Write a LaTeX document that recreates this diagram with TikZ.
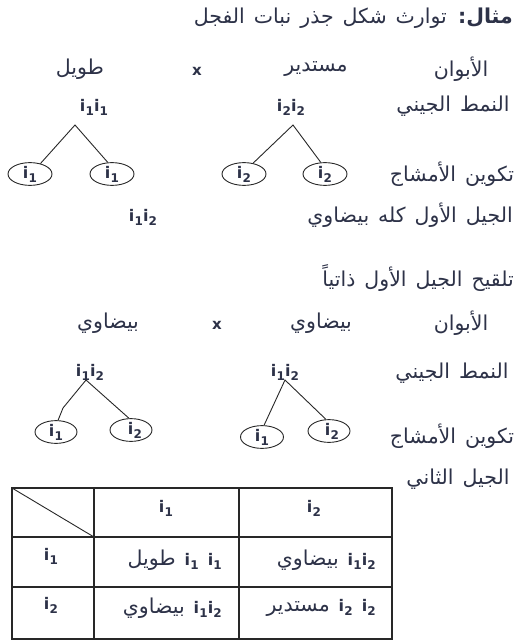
\documentclass[tikz,border=0pt]{standalone}
\usepackage{fontspec}
\setmainfont{DejaVu Sans}
\newfontfamily\arabicfont[Script=Arabic]{DejaVu Sans}
\usetikzlibrary{shapes.geometric}
\TeXXeTstate=1
\definecolor{txt}{RGB}{45,50,72}
\definecolor{ln}{RGB}{40,40,40}
\newcommand\gi[1]{{\fontsize{16}{18}\selectfont\bfseries i\kern0.2pt\raisebox{-0.45ex}{\fontsize{12}{13}\selectfont #1}}}
\newcommand\ar[1]{{\arabicfont\fontsize{20.5}{24}\selectfont\spaceskip=9pt plus 2pt minus 1pt\beginR #1\endR}}
\tikzset{
  every node/.style={text=txt, inner sep=0pt},
  gam/.style={draw=ln, ellipse, line width=0.9pt, minimum width=44pt, minimum height=20pt},
  leg/.style={draw=ln, line width=0.9pt},
  grid/.style={draw=ln, line width=1.1pt},
  cross/.style={font=\fontsize{15}{17}\selectfont\bfseries}
}
\begin{document}
\begin{tikzpicture}[x=1pt,y=-1pt]
\useasboundingbox[fill=white] (0,0) rectangle (519,642);
% header
\node[anchor=east] (title) at (513,18) {\ar{{\bfseries مثال:} توارث شكل جذر نبات الفجل}};
% first cross
\node (p1) at (461,69) {\ar{الأبوان}};
\node (p1a) at (316,69) {\ar{مستدير}};
\node[cross] (x1) at (197,71) {x};
\node (p1b) at (80,69) {\ar{طويل}};
\node (gt1) at (453,106) {\ar{النمط الجيني}};
\node (g1) at (94,107) {\gi1\gi1};
\node (g2) at (291,107) {\gi2\gi2};
\coordinate (a1) at (75,125);
\coordinate (a2) at (293,125);
\node[gam] (e1) at (30,174) {\gi1};
\node[gam] (e2) at (112,174) {\gi1};
\node[gam] (e3) at (244,174) {\gi2};
\node[gam] (e4) at (325,174) {\gi2};
\draw[leg] (e1.45) -- (a1) -- (e2.110);
\draw[leg] (e3.50) -- (a2) -- (e4.110);
\node (gm1) at (452,174) {\ar{تكوين الأمشاج}};
\node[anchor=east] (f1) at (513,215) {\ar{الجيل الأول كله بيضاوي}};
\node (f1g) at (143,217) {\gi1\gi2};
% selfing
\node[anchor=east] (self) at (514,278) {\ar{تلقيح الجيل الأول ذاتياً}};
\node (p2) at (461,323) {\ar{الأبوان}};
\node (p2a) at (321,323) {\ar{بيضاوي}};
\node[cross] (x2) at (217,325) {x};
\node (p2b) at (108,323) {\ar{بيضاوي}};
\node (gt2) at (452,373) {\ar{النمط الجيني}};
\node (g3) at (90,372) {\gi1\gi2};
\node (g4) at (285,372) {\gi1\gi2};
\coordinate (a3) at (86,380);
\coordinate (b3) at (63,408);
\coordinate (a4) at (285,380);
\node[gam, minimum width=42pt, minimum height=22pt] (e5) at (56,432) {\gi1};
\node[gam, minimum width=42pt, minimum height=22pt] (e6) at (131,430) {\hspace{8pt}\gi2};
\node[gam, minimum width=43pt, minimum height=22pt] (e7) at (262,437) {\gi1};
\node[gam, minimum width=42pt, minimum height=22pt] (e8) at (329,431) {\hspace{6pt}\gi2};
\draw[leg] (e5.80) -- (b3) -- (a3) -- (e6.100);
\draw[leg] (e7.80) -- (a4) -- (e8.105);
\node (gm2) at (452,436) {\ar{تكوين الأمشاج}};
\node (f2) at (458,479) {\ar{الجيل الثاني}};
% Punnett square
\coordinate (t0) at (12,488);
\coordinate (t1) at (94,537);
\draw[grid] (12,488) rectangle (392,639);
\draw[grid] (94,488) -- (94,639);
\draw[grid] (239,488) -- (239,639);
\draw[grid] (12,537) -- (392,537);
\draw[grid] (12,587) -- (392,587);
\draw[draw=ln, line width=0.9pt] (t0) -- (t1);
\node (h1) at (166,508) {\gi1};
\node (h2) at (314,508) {\gi2};
\node (r1) at (51,556) {\gi1};
\node (r2) at (51,605) {\gi2};
\node[anchor=east] (c11) at (222,560) {\ar{\beginL\gi1 \gi1\endL{} طويل}};
\node[anchor=east] (c12) at (376,560) {\ar{\beginL\gi1\gi2\endL{} بيضاوي}};
\node[anchor=east] (c21) at (222,608) {\ar{\beginL\gi1\gi2\endL{} بيضاوي}};
\node[anchor=east] (c22) at (376,608) {\ar{\beginL\gi2 \gi2\endL{} مستدير}};
\end{tikzpicture}
\end{document}
